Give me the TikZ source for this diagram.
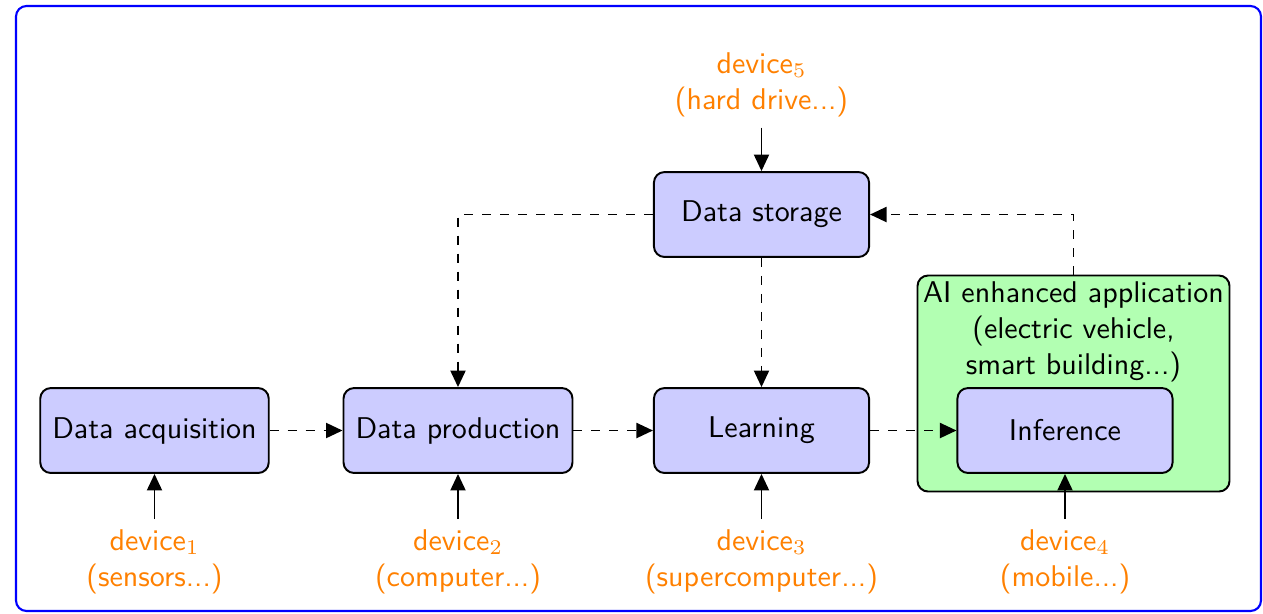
\documentclass[tikz,border=0pt]{standalone}
\usepackage{tikz}
\usetikzlibrary{arrows.meta}
\renewcommand{\familydefault}{\sfdefault}
\begin{document}
\begin{tikzpicture}[
  x=0.33333pt, y=-0.33333pt,
  stagebox/.style={draw, fill=blue!20, rounded corners=3.5pt, line width=0.65pt,
    minimum width=71.7pt, minimum height=28.3pt, inner xsep=4pt, font=\sffamily},
  appbox/.style={draw, fill=green!30, rounded corners=3.5pt, line width=0.65pt,
    minimum width=104pt, minimum height=72pt, inner sep=0pt},
  apptext/.style={align=center, inner sep=0pt, font=\sffamily},
  devlabel/.style={text=orange, align=center, font=\sffamily},
  feed/.style={line width=0.65pt, -{Triangle[length=5.5pt,width=5pt]}},
  flow/.style={feed, dashed},
]
\useasboundingbox (0,0) rectangle (1263,613);
% outer frame
\draw[blue, line width=0.7pt, rounded corners=3.5pt] (16,6) rectangle (1261,611);

% processing stages
\node[stagebox] (acq)   at (154.5,430.5) {Data acquisition};
\node[stagebox] (prod)  at (458,430.5)   {Data production};
\node[stagebox] (learn) at (761.5,430.5) {Learning};
\node[stagebox] (store) at (761.5,214.5) {Data storage};

% application container with the inference stage inside
\node[appbox] (app) at (1073.5,383.5) {};
\node[apptext, anchor=north] (apptxt) at (1073.5,281)
  {AI enhanced application\\(electric vehicle,\\smart building...)};
\node[stagebox] (inf) at (1065,430.5) {Inference};

% hardware supporting each stage
\node[devlabel, anchor=north] (d1) at (154.5,519) {device$_1$\\(sensors...)};
\node[devlabel, anchor=north] (d2) at (458,519)   {device$_2$\\(computer...)};
\node[devlabel, anchor=north] (d3) at (761.5,519) {device$_3$\\(supercomputer...)};
\node[devlabel, anchor=north] (d4) at (1065,519)  {device$_4$\\(mobile...)};
\node[devlabel, anchor=south] (d5) at (761.5,127.5) {device$_5$\\(hard drive...)};

\draw[feed] (d1.north) -- (acq.south);
\draw[feed] (d2.north) -- (prod.south);
\draw[feed] (d3.north) -- (learn.south);
\draw[feed] (d4.north) -- (inf.south);
\draw[feed] (d5.south) -- (store.north);

% data flow
\draw[flow] (acq.east) -- (prod.west);
\draw[flow] (prod.east) -- (learn.west);
\draw[flow] (learn.east) -- (inf.west);
\draw[flow] (store.west) -| (prod.north);
\draw[flow] (store.south) -- (learn.north);
\draw[flow] (app.north) |- (store.east);
\end{tikzpicture}
\end{document}
